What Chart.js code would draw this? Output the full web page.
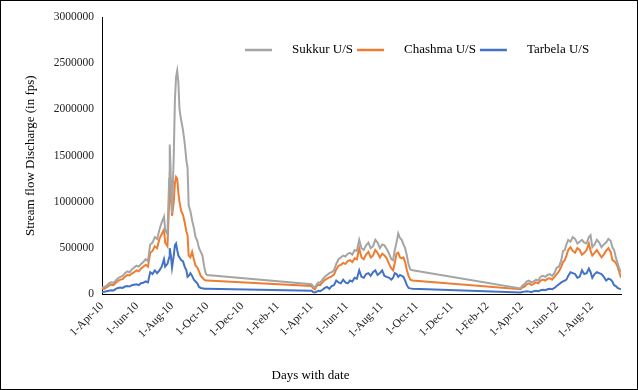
<!DOCTYPE html>
<html>
<head>
<meta charset="utf-8">
<script src="https://cdn.jsdelivr.net/npm/chart.js@4.4.1/dist/chart.umd.min.js"></script>
<style>
  body { margin: 0; background: #fff; }
  canvas { display: block; outline: 1px solid #000; outline-offset: -1px; }
</style>
</head>
<body>
<canvas id="flowChart" width="638" height="390"></canvas>
<script>
// days counted from 1-Apr-2010, one list per season joined
var days = [
  0,4,8,12,16,20,24,28,32,36,40,44,48,52,56,60,64,68,72,76,80,84,88,92,96,100,104,108,
  110,114,117,118,120,122,125,127,129,131,133,135,138,141,144,147,149,151,154,157,160,163,166,169,172,175,178,181,183,
  365,368,371,374,377,380,384,388,392,396,400,404,408,412,416,420,424,428,432,436,440,444,448,452,456,460,464,468,472,476,480,484,488,492,496,500,504,
  507,510,513,516,519,522,525,528,531,534,537,541,
  729,732,736,740,744,748,752,756,760,764,768,772,776,780,784,788,792,796,800,803,806,809,
  812,816,820,824,828,832,836,840,844,848,851,854,858,862,866,870,874,878,882,886,889,892,895,898,901,904
];

// discharge, thousands
var sukkur = [
  75,80,95,120,130,125,150,175,190,200,230,250,240,270,290,310,300,330,350,380,360,540,560,620,600,700,780,840,
  700,650,1250,1620,1250,880,1500,2100,2350,2420,2300,2000,1880,1780,1640,1450,1370,960,900,800,720,620,580,500,460,420,300,220,210,
  110,85,75,110,130,125,160,190,210,230,240,260,330,380,400,420,410,440,450,430,480,470,590,500,480,530,560,500,520,590,560,500,540,530,490,440,380,
  370,480,560,660,610,590,540,500,420,320,270,260,
  65,95,110,140,150,130,140,160,150,190,200,190,210,220,200,230,290,300,370,470,480,540,
  590,570,620,600,550,570,590,560,550,620,640,510,540,590,560,510,540,560,600,580,510,480,400,340,280,240
];
var chashma = [
  60,62,75,95,105,100,125,145,160,165,190,210,205,225,240,260,250,280,300,320,300,450,470,520,500,600,650,700,
  560,520,1000,1320,1100,850,1000,1200,1270,1250,1100,1000,900,860,780,680,640,420,400,460,380,310,290,250,200,180,160,150,150,
  90,65,55,90,105,100,130,155,170,185,195,215,270,310,320,340,330,360,370,350,390,380,500,400,380,430,460,400,420,480,450,400,440,420,390,330,280,
  260,340,440,450,400,390,400,350,260,200,160,150,
  55,75,85,110,120,100,115,130,120,150,160,150,170,175,160,190,220,250,300,350,370,420,
  480,510,470,450,500,480,430,450,480,550,470,420,450,480,440,400,430,470,500,460,370,360,340,300,240,180
];
var tarbela = [
  25,28,35,40,45,42,60,70,75,70,85,90,85,100,105,110,100,120,125,140,130,240,220,260,230,260,300,380,
  300,330,400,500,420,290,420,530,550,480,420,400,370,360,300,260,190,200,230,200,160,140,120,80,70,66,62,60,60,
  40,25,20,30,40,35,50,70,80,60,90,100,150,130,120,160,130,120,150,140,180,170,260,190,180,220,230,200,240,260,210,230,260,200,190,180,160,
  180,230,220,190,210,200,190,150,100,70,65,60,
  20,25,30,35,30,25,35,40,35,45,50,45,55,60,55,70,90,110,130,140,150,160,
  200,240,230,220,180,190,260,220,230,280,240,180,220,240,230,220,190,150,170,160,140,100,90,70,62,55
];

var tickDays = [0, 61, 122, 183, 244, 306, 365, 426, 487, 548, 609, 671, 731, 792, 853];
var tickLabels = ['1-Apr-10', '1-Jun-10', '1-Aug-10', '1-Oct-10', '1-Dec-10', '1-Feb-11', '1-Apr-11',
  '1-Jun-11', '1-Aug-11', '1-Oct-11', '1-Dec-11', '1-Feb-12', '1-Apr-12', '1-Jun-12', '1-Aug-12'];

function toPoints(values) {
  return days.map(function(d, i) { return {x: d, y: values[i] * 1000}; });
}

Chart.defaults.font.family = '"Liberation Serif", "Times New Roman", serif';
Chart.defaults.color = '#222';

// legend sits inside the plot, so draw it by hand
var insideLegend = {
  id: 'insideLegend',
  afterDraw: function(chart) {
    var ctx = chart.ctx;
    var x = 245, y = 50;
    ctx.save();
    ctx.font = '13px "Liberation Serif", serif';
    ctx.textBaseline = 'middle';
    chart.data.datasets.forEach(function(ds) {
      ctx.strokeStyle = ds.borderColor;
      ctx.lineWidth = 2.5;
      ctx.beginPath();
      ctx.moveTo(x, y);
      ctx.lineTo(x + 27, y);
      ctx.stroke();
      ctx.fillStyle = '#000';
      ctx.fillText(ds.label, x + 47, y);
      x += 47 + ctx.measureText(ds.label).width + 4;
    });
    ctx.restore();
  }
};

var ctx = document.getElementById('flowChart').getContext('2d');
var flowChart = new Chart(ctx, {
  type: 'line',
  data: {
    datasets: [
      {label: 'Sukkur U/S', data: toPoints(sukkur), borderColor: '#A5A5A5', backgroundColor: '#A5A5A5'},
      {label: 'Chashma U/S', data: toPoints(chashma), borderColor: '#ED7D31', backgroundColor: '#ED7D31'},
      {label: 'Tarbela U/S', data: toPoints(tarbela), borderColor: '#4472C4', backgroundColor: '#4472C4'}
    ]
  },
  options: {
    responsive: false,
    animation: false,
    layout: {padding: {top: 17, right: 17, bottom: 7, left: 0}},
    elements: {
      line: {borderWidth: 2, tension: 0},
      point: {radius: 0}
    },
    plugins: {
      legend: {display: false},
      tooltip: {enabled: false},
      title: {
        display: true,
        position: 'bottom',
        text: 'Days with date',
        color: '#000',
        font: {size: 13, weight: 'normal'},
        padding: 0
      }
    },
    scales: {
      x: {
        type: 'linear',
        min: 0,
        max: 904,
        grid: {display: false, drawTicks: false},
        border: {display: true, color: '#000', width: 1},
        afterBuildTicks: function(scale) {
          scale.ticks = tickDays.map(function(d) { return {value: d}; });
        },
        afterFit: function(scale) { scale.height = 73; },
        ticks: {
          autoSkip: false,
          minRotation: 45,
          maxRotation: 45,
          padding: 5,
          font: {size: 11.5},
          callback: function(value, index) { return tickLabels[index]; }
        }
      },
      y: {
        min: 0,
        max: 3000000,
        grid: {display: false, drawTicks: false},
        border: {display: true, color: '#000', width: 1},
        afterFit: function(scale) { scale.width = 102; },
        ticks: {
          stepSize: 500000,
          padding: 8,
          font: {size: 11.5},
          callback: function(value) { return String(value); }
        },
        title: {
          display: true,
          text: 'Stream flow Discharge (in fps)',
          color: '#000',
          font: {size: 13},
          padding: {top: 23, bottom: 0}
        }
      }
    }
  },
  plugins: [insideLegend]
});
</script>
</body>
</html>
